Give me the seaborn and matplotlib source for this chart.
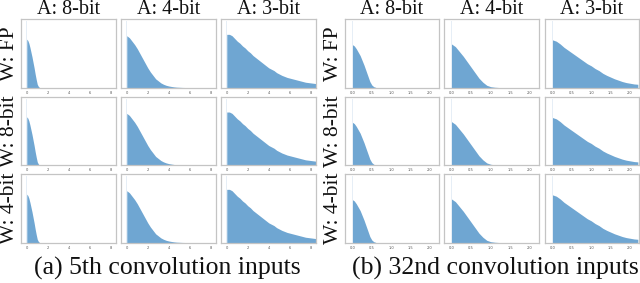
import numpy as np
import pandas as pd
import matplotlib
matplotlib.use("Agg")
import matplotlib.pyplot as plt
import seaborn as sns

sns.set_theme(style="white")
plt.rcParams['font.family'] = ['Liberation Serif', 'DejaVu Serif']

# ---- data (relative histogram heights) ----
col_titles = ["A: 8-bit", "A: 4-bit", "A: 3-bit"]
row_titles = ["W: FP", "W: 8-bit", "W: 4-bit"]
captions = ["(a) 5th convolution inputs", "(b) 32nd convolution inputs"]

left_ticks = [0, 2, 4, 6, 8]
left_ticklabels = ["0", "2", "4", "6", "8"]
right_ticks = [0.0, 0.5, 1.0, 1.5, 2.0]
right_ticklabels = ["0.0", "0.5", "1.0", "1.5", "2.0"]

# bin spacing of the listed heights per column
left_steps = [0.1, 0.25, 0.25]
right_steps = [0.05, 0.1, 0.1]

# (a) 5th convolution inputs
left_a8 = [0.71, 0.69, 0.65, 0.59, 0.52, 0.45, 0.37, 0.29, 0.20, 0.12, 0.05, 0.02, 0.005]
left_a4 = [0.76, 0.73, 0.68, 0.63, 0.57, 0.50, 0.43, 0.36, 0.29, 0.23, 0.18, 0.13,
           0.10, 0.07, 0.05, 0.035, 0.025, 0.018, 0.012, 0.008, 0.006, 0.004, 0.003,
           0.002, 0.001]
left_a3 = [0.78, 0.78, 0.76, 0.72, 0.68, 0.65, 0.61, 0.58, 0.54, 0.51, 0.47, 0.44,
           0.41, 0.38, 0.35, 0.32, 0.29, 0.27, 0.25, 0.22, 0.20, 0.18, 0.165, 0.15,
           0.14, 0.13, 0.12, 0.11, 0.10, 0.09, 0.08, 0.075, 0.07, 0.065, 0.06]

# (b) 32nd convolution inputs
right_a8 = [0.63, 0.61, 0.57, 0.52, 0.47, 0.40, 0.33, 0.25, 0.17, 0.09, 0.04, 0.015, 0.005]
right_a4 = [0.64, 0.60, 0.53, 0.46, 0.38, 0.30, 0.22, 0.14, 0.08, 0.035, 0.015, 0.007, 0.003]
right_a3 = [0.70, 0.68, 0.64, 0.59, 0.55, 0.51, 0.47, 0.43, 0.39, 0.35, 0.32, 0.28,
            0.25, 0.21, 0.18, 0.155, 0.13, 0.11, 0.09, 0.075, 0.065, 0.055, 0.05]

zero_spike = 0.97  # thin spike of exact zeros reaching near the top

left_data = [left_a8, left_a4, left_a3]
right_data = [right_a8, right_a4, right_a3]

# ---- layout ----
W, H = 640, 283
fig = plt.figure(figsize=(W / 100, H / 100), dpi=100)

left_cols = [(21, 116), (121, 216), (221, 316)]
right_cols = [(345, 439), (444, 539), (545, 639)]
rows = [(19.3, 87.7), (97, 165.3), (174.3, 242.7)]

fill_color = "#6fa6d2"


def rect(xp, yp):
    x0, x1 = xp
    y0, y1 = yp
    return [x0 / W, 1 - y1 / H, (x1 - x0) / W, (y1 - y0) / H]


def draw_panel(ax, heights, step, xlim, ticks, ticklabels, spike_w):
    xs = np.arange(len(heights)) * step
    df = pd.DataFrame({"x": xs, "h": heights})
    sns.histplot(data=df, x="x", weights="h", bins=len(heights),
                 binrange=(-step / 2, xs[-1] + step / 2), element="poly",
                 fill=True, color=fill_color, alpha=1.0, linewidth=0, ax=ax)
    sp = pd.DataFrame({"x": [0.0], "h": [zero_spike]})
    sns.histplot(data=sp, x="x", weights="h", bins=1,
                 binrange=(-spike_w / 2, spike_w / 2), element="bars",
                 fill=True, color="#e6eef6", alpha=1.0, linewidth=0, ax=ax)
    ax.set_xlim(*xlim)
    ax.set_ylim(0, 1)
    ax.set_xticks(ticks)
    ax.set_xticklabels(ticklabels, fontfamily="DejaVu Sans")
    ax.set_yticks([])
    ax.set_xlabel("")
    ax.set_ylabel("")
    ax.tick_params(axis="x", labelsize=2.6, colors="#555555", length=1.2,
                   width=0.4, pad=1.0)
    for s in ax.spines.values():
        s.set_color("#c4c4c4")
        s.set_linewidth(0.9)


for r, yp in enumerate(rows):
    for c in range(3):
        ax = fig.add_axes(rect(left_cols[c], yp))
        draw_panel(ax, left_data[c], left_steps[c], (-0.55, 8.5),
                   left_ticks, left_ticklabels, 0.09)
        ax = fig.add_axes(rect(right_cols[c], yp))
        draw_panel(ax, right_data[c], right_steps[c], (-0.19, 2.23),
                   right_ticks, right_ticklabels, 0.024)

# column titles
for c in range(3):
    for cols in (left_cols, right_cols):
        xc = (cols[c][0] + cols[c][1]) / 2
        fig.text(xc / W, 1 - 9 / H, col_titles[c], ha="center", va="center",
                 fontsize=14.5, color="#111111")

# row titles
for r, yp in enumerate(rows):
    yc = (yp[0] + yp[1]) / 2
    for xc in (9.5, 333):
        fig.text(xc / W, 1 - yc / H, row_titles[r], ha="center", va="center",
                 rotation=90, fontsize=15.5, color="#111111")

# captions
fig.text(167.5 / W, 1 - 268 / H, captions[0], ha="center", va="center",
         fontsize=18.5, color="#111111")
fig.text(495 / W, 1 - 268 / H, captions[1], ha="center", va="center",
         fontsize=18.5, color="#111111")

fig.savefig("out.png", dpi=100)
